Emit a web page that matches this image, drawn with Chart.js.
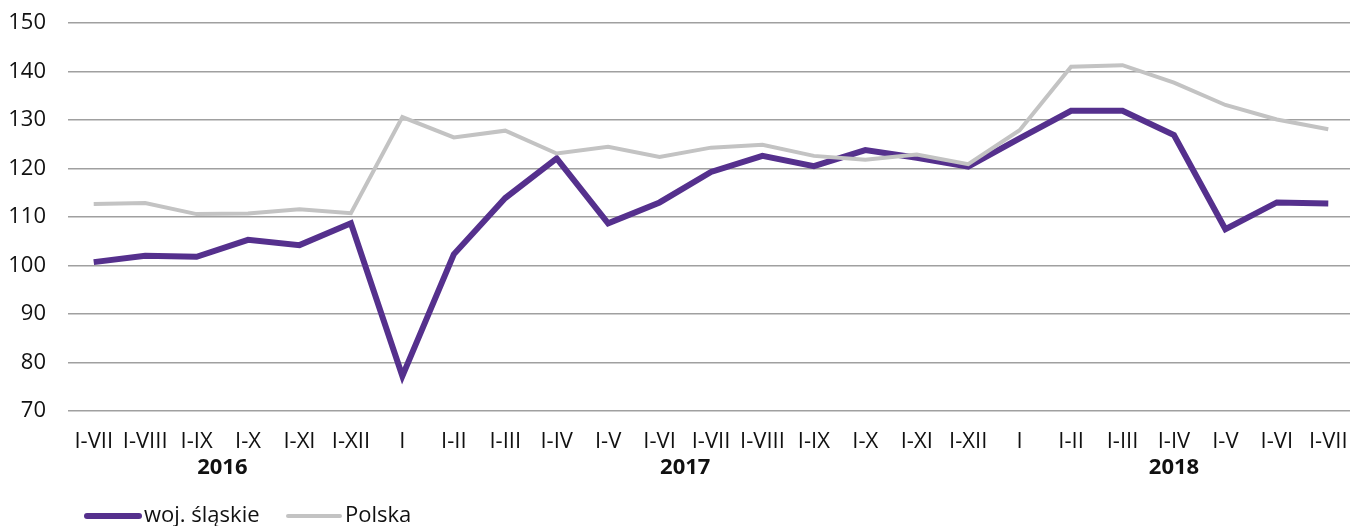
<!DOCTYPE html>
<html>
<head>
<meta charset="utf-8">
<script src="https://cdn.jsdelivr.net/npm/chart.js@4.4.1/dist/chart.umd.min.js"></script>
<style>
  html, body { margin: 0; padding: 0; background: #ffffff; overflow: hidden; }
  #wrap { width: 1350px; height: 526px; overflow: hidden; position: relative; }
  canvas { display: block; }
</style>
</head>
<body>
<div id="wrap"><canvas id="c" width="1354" height="526"></canvas></div>
<script>
const categories = [
  "I-VII","I-VIII","I-IX","I-X","I-XI","I-XII",
  "I","I-II","I-III","I-IV","I-V","I-VI","I-VII","I-VIII","I-IX","I-X","I-XI","I-XII",
  "I","I-II","I-III","I-IV","I-V","I-VI","I-VII"
];
const years = [
  { label: "2016", from: 0, to: 5 },
  { label: "2017", from: 6, to: 17 },
  { label: "2018", from: 18, to: 24 }
];
const slaskie = [
  100.7, 102.0, 101.8, 105.3, 104.2, 108.7,
  77.2, 102.3, 113.9, 122.1, 108.7, 113.0, 119.3, 122.6, 120.5, 123.8, 122.2, 120.4,
  126.2, 131.9, 131.9, 126.9, 107.5, 113.0, 112.8
];
const polska = [
  112.7, 112.9, 110.6, 110.7, 111.6, 110.8,
  130.6, 126.4, 127.8, 123.1, 124.5, 122.4, 124.3, 124.9, 122.6, 121.8, 122.9, 120.9,
  127.9, 141.0, 141.3, 137.7, 133.1, 130.1, 128.1
];
const yTicks = [70, 80, 90, 100, 110, 120, 130, 140, 150];
const seriesNames = ["woj. śląskie", "Polska"];

const PURPLE = "#55308d";
const GRAY = "#c3c3c3";
const FONT = "'Open Sans', 'Noto Sans', sans-serif";

const extras = {
  id: "extras",
  afterDraw(chart) {
    const ctx = chart.ctx;
    const xs = chart.scales.x;
    ctx.save();
    ctx.fillStyle = "#111";
    ctx.font = "bold 22px " + FONT;
    ctx.textAlign = "center";
    ctx.textBaseline = "middle";
    years.forEach(y => {
      const cx = (xs.getPixelForValue(y.from) + xs.getPixelForValue(y.to)) / 2;
      ctx.fillText(y.label, cx, 468);
    });
    // legend
    const items = [
      { name: seriesNames[0], color: PURPLE, width: 6, x0: 87, x1: 139 },
      { name: seriesNames[1], color: GRAY, width: 4, x0: 288, x1: 340 }
    ];
    ctx.font = "22px " + FONT;
    ctx.textAlign = "left";
    items.forEach(it => {
      ctx.strokeStyle = it.color;
      ctx.lineWidth = it.width;
      ctx.lineCap = "round";
      ctx.beginPath();
      ctx.moveTo(it.x0, 516);
      ctx.lineTo(it.x1, 516);
      ctx.stroke();
      ctx.fillText(it.name, it.x1 + 5, 516);
    });
    ctx.restore();
  }
};

new Chart(document.getElementById("c"), {
  type: "line",
  data: {
    labels: categories,
    datasets: [
      { label: seriesNames[1], data: polska, borderColor: GRAY, borderWidth: 4,
        pointRadius: 0, tension: 0, fill: false, order: 0 },
      { label: seriesNames[0], data: slaskie, borderColor: PURPLE, borderWidth: 6,
        pointRadius: 0, tension: 0, fill: false, order: 1 }
    ]
  },
  options: {
    responsive: false,
    animation: false,
    events: [],
    layout: { padding: { top: 23, left: 0, right: 0, bottom: 0 } },
    plugins: { legend: { display: false }, tooltip: { enabled: false } },
    scales: {
      x: {
        offset: true,
        grid: { display: false, drawTicks: false },
        border: { display: false },
        ticks: {
          color: "#111", font: { family: FONT, size: 22 }, padding: 18,
          maxRotation: 0, minRotation: 0, autoSkip: false
        },
        afterFit(scale) { scale.height = 115; scale.paddingLeft = 0; scale.paddingRight = 0; }
      },
      y: {
        min: 70, max: 150,
        afterBuildTicks(scale) { scale.ticks = yTicks.map(v => ({ value: v })); },
        grid: { color: "#a0a0a0", lineWidth: 1.5, drawTicks: false },
        border: { display: false },
        ticks: { color: "#111", font: { family: FONT, size: 22 }, padding: 22 },
        afterFit(scale) { scale.width = 68; scale.paddingTop = 12; scale.paddingBottom = 0; }
      }
    }
  },
  plugins: [extras]
});
</script>
</body>
</html>
